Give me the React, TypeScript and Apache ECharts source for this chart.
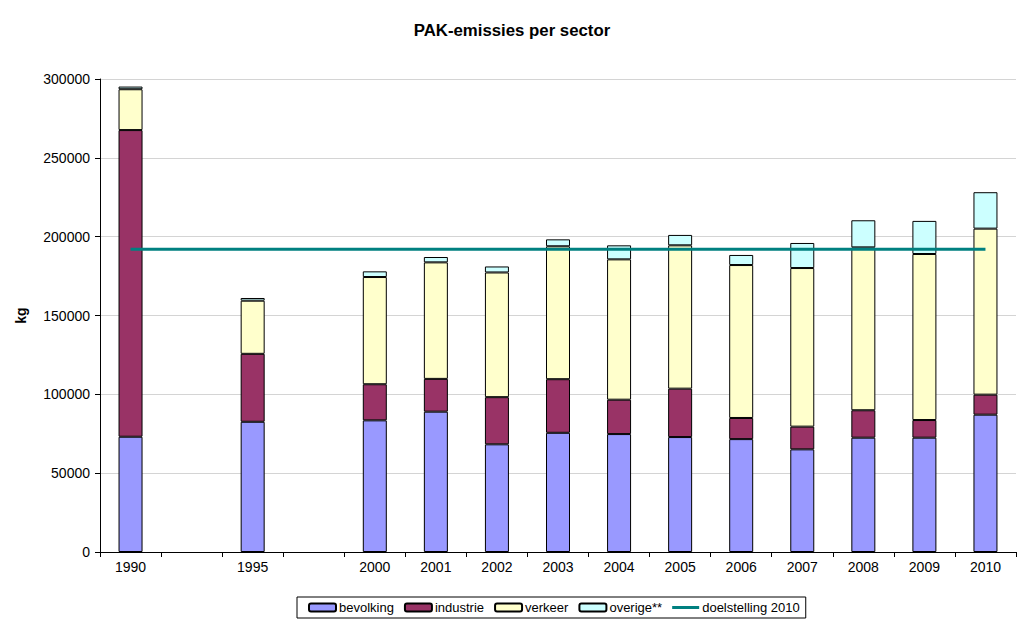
import React, { useEffect, useRef } from "react";
import * as echarts from "echarts";

const categories = ["1990", "", "1995", "", "2000", "2001", "2002", "2003", "2004", "2005", "2006", "2007", "2008", "2009", "2010"];
const bevolking = [73100, null, 82600, null, 83500, 89000, 68300, 75600, 74800, 72900, 71600, 65100, 72500, 72500, 87100];
const industrie = [194500, null, 43100, null, 22900, 20800, 29900, 34000, 21800, 30700, 13400, 14400, 17400, 11200, 12700];
const verkeer = [25900, null, 33700, null, 68000, 73900, 79100, 84300, 89000, 90900, 97000, 100600, 103300, 105300, 105300];
const overige = [1700, null, 1700, null, 3600, 3400, 3800, 4400, 8900, 6600, 6400, 15900, 17200, 21000, 23100];
const doelstelling = [192000, 192000, 192000, 192000, 192000, 192000, 192000, 192000, 192000, 192000, 192000, 192000, 192000, 192000, 192000];

const FONT = "'Liberation Sans', Arial, sans-serif";

export default function App() {
  const ref = useRef<HTMLDivElement>(null);
  useEffect(() => {
    if (!ref.current) return;
    const chart = echarts.init(ref.current, null, { renderer: "svg" });
    const barBase = {
      type: "bar" as const,
      stack: "total",
      barWidth: 24,
    };
    chart.setOption({
      animation: false,
      backgroundColor: "#ffffff",
      textStyle: { fontFamily: FONT },
      title: {
        text: "PAK-emissies per sector",
        left: "center",
        top: 17,
        textStyle: { fontFamily: FONT, fontSize: 16.8, fontWeight: "bold", color: "#000" },
      },
      legend: {
        left: 297,
        top: 597,
        orient: "horizontal",
        borderColor: "#000",
        borderWidth: 1,
        padding: [4, 6, 4, 11],
        itemWidth: 27,
        itemHeight: 8,
        itemGap: 10,
        textStyle: { fontFamily: FONT, fontSize: 13, color: "#000", padding: [0, 0, 0, -2] },
        data: [
          { name: "bevolking" },
          { name: "industrie" },
          { name: "verkeer" },
          { name: "overige**" },
          {
            name: "doelstelling 2010",
            icon: "path://M0,0M27,8M0,2.5L27,2.5L27,5.5L0,5.5Z",
            itemStyle: { color: "#008080", borderWidth: 0 },
          },
        ],
      },
      grid: { left: 100, right: 8, top: 79, bottom: 72, containLabel: false },
      xAxis: {
        type: "category",
        data: categories,
        axisLine: { lineStyle: { color: "#000", width: 1 } },
        axisTick: { show: true, interval: 0, length: 5, lineStyle: { color: "#000" } },
        axisLabel: { interval: 0, fontFamily: FONT, fontSize: 14, color: "#000", margin: 8 },
        splitLine: { show: false },
      },
      yAxis: {
        type: "value",
        min: 0,
        max: 300000,
        interval: 50000,
        name: "kg",
        nameLocation: "middle",
        nameGap: 72,
        nameTextStyle: { fontFamily: FONT, fontSize: 14, fontWeight: "bold", color: "#000" },
        axisLine: { show: true, lineStyle: { color: "#000", width: 1 } },
        axisTick: { show: true, length: 5, lineStyle: { color: "#000" } },
        axisLabel: { fontFamily: FONT, fontSize: 14, color: "#000", margin: 10, formatter: (v: number) => String(v) },
        splitLine: { show: true, lineStyle: { color: "#d4d4d4", width: 1 } },
      },
      series: [
        { ...barBase, name: "bevolking", data: bevolking, itemStyle: { color: "#9999FF", borderColor: "#000", borderWidth: 1 } },
        { ...barBase, name: "industrie", data: industrie, itemStyle: { color: "#993366", borderColor: "#000", borderWidth: 1 } },
        { ...barBase, name: "verkeer", data: verkeer, itemStyle: { color: "#FFFFCC", borderColor: "#000", borderWidth: 1 } },
        { ...barBase, name: "overige**", data: overige, itemStyle: { color: "#CCFFFF", borderColor: "#000", borderWidth: 1 } },
        {
          type: "line",
          name: "doelstelling 2010",
          data: doelstelling,
          symbol: "none",
          lineStyle: { color: "#008080", width: 3 },
          itemStyle: { color: "#008080" },
          z: 5,
        },
      ],
    });
    return () => chart.dispose();
  }, []);
  return (
    <div
      ref={ref}
      style={{ position: "fixed", left: 0, top: 0, width: 1024, height: 624, background: "#fff" }}
    />
  );
}
